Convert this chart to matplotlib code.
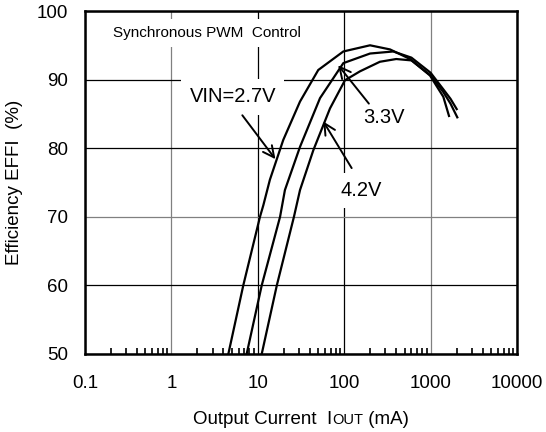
import numpy as np
import matplotlib
matplotlib.use("Agg")
import matplotlib.pyplot as plt
from matplotlib.ticker import LogLocator, NullFormatter, FixedLocator
from matplotlib.offsetbox import TextArea, HPacker, AnnotationBbox

plt.rcParams['font.family'] = ['Liberation Sans', 'DejaVu Sans']

# ---------------------
# DATA
# ---------------------
i_27 = [4.56, 6.79, 10.6, 11.6, 13.8, 19.7, 30.8, 50.1, 97.7, 199, 339, 578, 984, 1403, 1633]
e_27 = [50, 60, 70, 71.7, 75.4, 81.2, 86.8, 91.4, 94.1, 95.0, 94.4, 93.0, 90.6, 87.5, 84.7]

i_33 = [7.43, 11.1, 18.1, 20.6, 30.8, 52.5, 97.7, 199, 370, 600, 1000, 1400, 1700, 2005]
e_33 = [50, 60, 70, 73.9, 80.2, 87.3, 92.4, 93.8, 94.1, 93.2, 91.0, 88.6, 87.2, 85.7]

i_42 = [11.1, 16.6, 26.2, 30.8, 43.9, 68.5, 102, 152, 259, 400, 600, 1000, 1400, 1700, 2037]
e_42 = [50, 60, 70, 73.9, 79.7, 85.8, 89.9, 91.2, 92.6, 93.0, 92.8, 90.6, 88.2, 86.5, 84.5]

x_ticks = [0.1, 1, 10, 100, 1000, 10000]
x_labels = ["0.1", "1", "10", "100", "1000", "10000"]
y_ticks = [50, 60, 70, 80, 90, 100]

# ---------------------
# FIGURE
# ---------------------
fig = plt.figure(figsize=(5.46, 4.32), dpi=100)
ax = fig.add_axes([85 / 546, 78 / 432, 432 / 546, 343 / 432])

for xs, ys in [(i_27, e_27), (i_33, e_33), (i_42, e_42)]:
    ax.plot(xs, ys, color='black', lw=1.6, zorder=4, solid_joinstyle='miter')

ax.set_xscale('log')
ax.set_xlim(0.1, 10000)
ax.set_ylim(50, 100)

ax.xaxis.set_major_locator(FixedLocator(x_ticks))
ax.set_xticks(x_ticks)
ax.set_xticklabels(x_labels)
ax.xaxis.set_minor_locator(LogLocator(base=10, subs=np.arange(2, 10)))
ax.xaxis.set_minor_formatter(NullFormatter())
ax.set_yticks(y_ticks)

ax.tick_params(axis='x', which='major', length=0, pad=15, labelsize=13.5)
ax.tick_params(axis='x', which='minor', direction='in', length=4.5, width=1.2)
ax.tick_params(axis='y', length=0, pad=12, labelsize=13.5)

ax.set_axisbelow(True)
ax.grid(True, which='major', color='black', lw=0.9)
for k in (1, 4):
    ax.xaxis.get_gridlines()[k].set_color('#808080')
ax.yaxis.get_gridlines()[2].set_color('#808080')

for s in ax.spines.values():
    s.set_linewidth(1.8)

# ---------------------
# TEXT + ARROWS
# ---------------------
box = dict(facecolor='white', edgecolor='none', pad=6)
ax.text(0.211, 96.8, "Synchronous PWM  Control", fontsize=11, ha='left', va='center',
        bbox=dict(facecolor='white', edgecolor='none', pad=5), zorder=3)
ax.text(5.14, 87.5, "VIN=2.7V", fontsize=14.5, ha='center', va='center', bbox=box, zorder=3)
ax.text(285, 84.5, "3.3V", fontsize=14.5, ha='center', va='center', zorder=3)
ax.text(156, 73.8, "4.2V", fontsize=14.5, ha='center', va='center', bbox=box, zorder=3)

arr = dict(arrowstyle='->', lw=1.4, color='black', mutation_scale=20, shrinkA=0, shrinkB=0)
ax.annotate('', xy=(16.0, 78.4), xytext=(6.62, 84.8), arrowprops=arr, zorder=5)
ax.annotate('', xy=(85.1, 92.1), xytext=(193, 86.5), arrowprops=arr, zorder=5)
ax.annotate('', xy=(57.3, 83.9), xytext=(122, 77.1), arrowprops=arr, zorder=5)

# axis labels
fig.text(15 / 546, 1 - 182 / 432, "Efficiency EFFI  (%)", rotation=90,
         fontsize=13.5, ha='center', va='center')

tp = dict(fontsize=13.5, color='black')
xl = HPacker(children=[TextArea("Output Current  I", textprops=tp),
                       TextArea("OUT", textprops=dict(fontsize=10.5, color='black')),
                       TextArea(" (mA)", textprops=tp)],
             align='baseline', pad=0, sep=0)
ab = AnnotationBbox(xl, (301 / 546, 1 - 419 / 432), xycoords='figure fraction',
                    frameon=False, box_alignment=(0.5, 0.5))
fig.add_artist(ab)

fig.savefig("out.png", dpi=100)
